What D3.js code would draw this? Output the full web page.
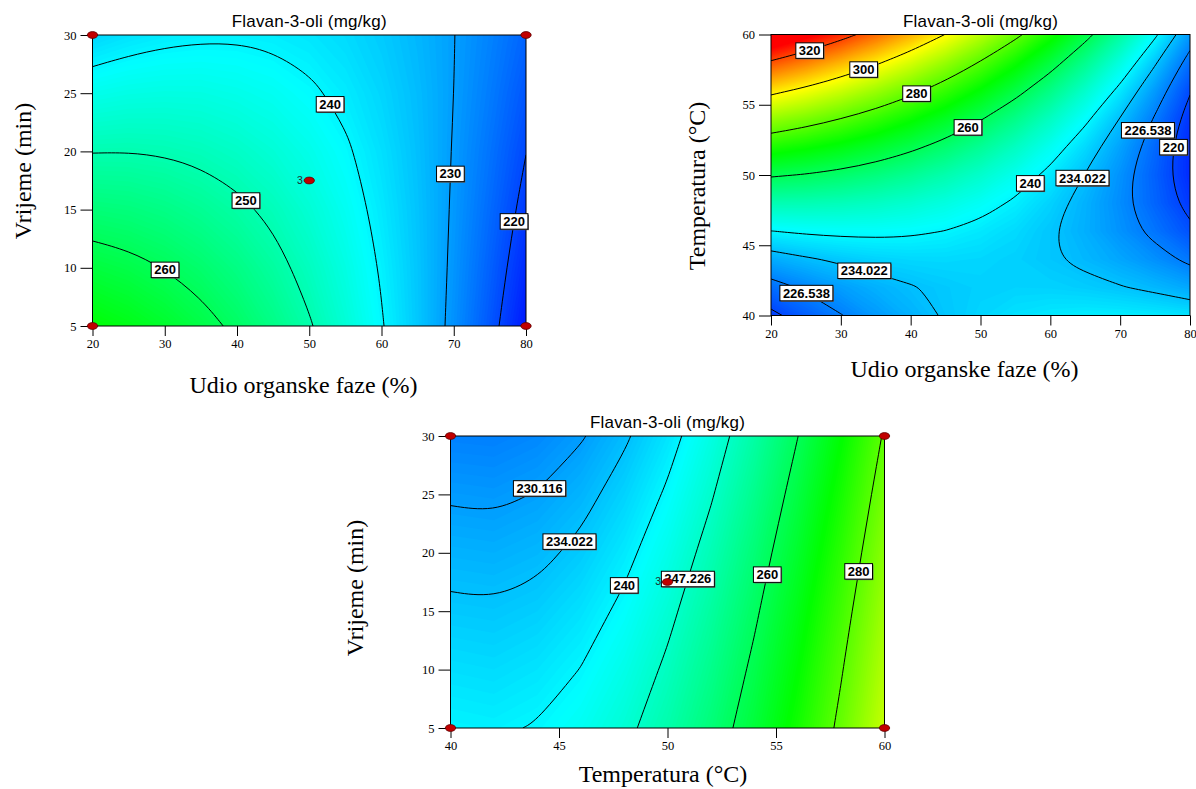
<!DOCTYPE html>
<html>
<head>
<meta charset="utf-8">
<script src="https://cdn.jsdelivr.net/npm/d3@7"></script>
<style>
  body { margin: 0; background: #fff; }
  svg { display: block; font-family: "Liberation Sans", Arial, sans-serif; }
  .serif { font-family: "Liberation Serif", "Times New Roman", serif; }
</style>
</head>
<body>
<div id="chart"></div>
<script>
// Flavan-3-oli (mg/kg), values
const organicPhase = [20, 25, 30, 35, 40, 45, 50, 55, 60, 65, 70, 75, 80];   // %
const temperature = [40, 42, 44, 46, 48, 50, 52, 54, 56, 58, 60];            // °C
const time = [5, 10, 15, 20, 25, 30];                                        // min

// rows = time (5..30), cols = organicPhase
const flavanOrgTime = [
  [269.5, 267.5, 265.0, 262.1, 258.7, 254.8, 250.5, 245.7, 240.4, 234.7, 228.5, 221.8, 214.7],
  [263.0, 261.7, 259.9, 257.7, 255.0, 251.8, 248.2, 244.1, 239.5, 234.5, 229.0, 223.0, 216.6],
  [256.5, 255.9, 254.8, 253.2, 251.2, 248.8, 245.8, 242.4, 238.5, 234.2, 229.4, 224.1, 218.4],
  [249.8, 249.9, 249.5, 248.7, 247.4, 245.6, 243.4, 240.7, 237.5, 233.8, 229.7, 225.1, 220.1],
  [243.1, 243.9, 244.2, 244.1, 243.4, 242.4, 240.8, 238.8, 236.3, 233.4, 230.0, 226.1, 221.7],
  [236.3, 237.8, 238.8, 239.3, 239.4, 239.0, 238.2, 236.9, 235.1, 232.8, 230.1, 226.9, 223.3]
];

// rows = temperature (40..60), cols = organicPhase
const flavanOrgTemp = [
  [218.7, 222.7, 226.3, 229.5, 232.2, 234.5, 236.3, 237.7, 238.6, 239.1, 239.1, 238.7, 237.9],
  [224.4, 227.4, 230.0, 232.1, 233.7, 234.9, 235.7, 236.0, 235.9, 235.3, 234.3, 232.9, 231.0],
  [231.5, 233.4, 234.9, 236.0, 236.6, 236.7, 236.4, 235.7, 234.5, 232.9, 230.9, 228.4, 225.4],
  [239.9, 240.8, 241.2, 241.2, 240.8, 239.9, 238.5, 236.8, 234.5, 231.9, 228.7, 225.2, 221.2],
  [249.7, 249.5, 248.9, 247.8, 246.3, 244.4, 242.0, 239.2, 235.9, 232.2, 228.0, 223.4, 218.3],
  [260.8, 259.6, 257.9, 255.8, 253.2, 250.2, 246.8, 242.9, 238.6, 233.8, 228.6, 222.9, 216.8],
  [273.3, 271.0, 268.3, 265.1, 261.5, 257.5, 253.0, 248.0, 242.6, 236.8, 230.5, 223.8, 216.6],
  [287.1, 283.8, 280.0, 275.8, 271.1, 266.0, 260.5, 254.5, 248.0, 241.1, 233.8, 226.0, 217.8],
  [302.3, 297.9, 293.1, 287.8, 282.1, 275.9, 269.3, 262.3, 254.8, 246.8, 238.5, 229.6, 220.4],
  [318.8, 313.4, 307.5, 301.2, 294.4, 287.2, 279.5, 271.4, 262.9, 253.9, 244.5, 234.6, 224.3],
  [336.7, 330.2, 323.3, 315.9, 308.1, 299.8, 291.1, 281.9, 272.3, 262.3, 251.8, 240.9, 229.5]
];

// rows = time (5..30), cols = temperature
const flavanTempTime = [
  [239.8, 239.4, 240.3, 242.4, 245.8, 250.5, 256.4, 263.5, 272.0, 281.6, 292.6],
  [237.4, 237.0, 238.0, 240.1, 243.5, 248.2, 254.1, 261.3, 269.8, 279.5, 290.4],
  [234.9, 234.6, 235.5, 237.7, 241.1, 245.8, 251.8, 259.0, 267.5, 277.2, 288.2],
  [232.3, 232.0, 232.9, 235.1, 238.6, 243.3, 249.3, 256.6, 265.0, 274.8, 285.8],
  [229.6, 229.3, 230.3, 232.5, 236.0, 240.7, 246.7, 254.0, 262.5, 272.3, 283.3],
  [226.7, 226.5, 227.5, 229.7, 233.3, 238.0, 244.1, 251.3, 259.9, 269.7, 280.7]
];

const levelsOrgTime = [220, 230, 240, 250, 260];
const levelsOrgTemp = [220, 226.538, 234.022, 240, 260, 280, 300, 320];
const levelsTempTime = [230.116, 234.022, 240, 247.226, 260, 280];

// design points (Box-Behnken), last one is the centre point run 3 times
const designOrgTime = [[20, 5], [20, 30], [80, 5], [80, 30], [50, 17.5]];
const designTempTime = [[40, 5], [40, 30], [60, 5], [60, 30], [50, 17.5]];
const designRuns = [1, 1, 1, 1, 3];

const chartTitle = 'Flavan-3-oli (mg/kg)';

const panels = [
  {
    id: 'p1', left: 92.5, right: 526, top: 35, bottom: 326,
    xs: organicPhase, ys: time, grid: flavanOrgTime, levels: levelsOrgTime,
    xTicks: d3.range(20, 81, 10), yTicks: d3.range(5, 31, 5),
    xTitle: 'Udio organske faze (%)', yTitle: 'Vrijeme (min)',
    xTitlePos: [303.5, 393], yTitlePos: [31, 171],
    design: designOrgTime,
    // rough spots where the contour labels sit, snapped onto the line
    labelAt: [[240, 52.7, 24.0], [250, 41.4, 15.9], [260, 30.5, 10.2], [230, 68.9, 18.1], [220, 77.9, 14.05]]
  },
  {
    id: 'p2', left: 771, right: 1190, top: 34.5, bottom: 315.5,
    xs: organicPhase, ys: temperature, grid: flavanOrgTemp, levels: levelsOrgTemp,
    xTicks: d3.range(20, 81, 10), yTicks: d3.range(40, 61, 5),
    xTitle: 'Udio organske faze (%)', yTitle: 'Temperatura (°C)',
    xTitlePos: [964.5, 377], yTitlePos: [705, 186],
    design: [],
    labelAt: [[320, 25.2, 59.4], [300, 32.9, 58.05], [280, 40.4, 56.3], [260, 47.8, 53.8],
      [240, 56.8, 49.6], [234.022, 64.25, 49.9], [234.022, 33.6, 43.65],
      [226.538, 73.5, 53.3], [226.538, 25.5, 41.97], [220, 77.6, 52.0]]
  },
  {
    id: 'p3', left: 450.5, right: 884.5, top: 436, bottom: 728,
    xs: temperature, ys: time, grid: flavanTempTime, levels: levelsTempTime,
    xTicks: d3.range(40, 61, 5), yTicks: d3.range(5, 31, 5),
    xTitle: 'Temperatura (°C)', yTitle: 'Vrijeme (min)',
    xTitlePos: [663, 782], yTitlePos: [363, 588],
    design: designTempTime,
    labelAt: [[230.116, 43.98, 25.75], [234.022, 45.5, 20.95], [240, 48.05, 17.2],
      [247.226, 50.97, 17.76], [260, 54.58, 18.16], [280, 58.68, 18.47]]
  }
];

const color = d3.scaleLinear()
  .domain([212, 241, 270, 299, 328])
  .range(['#0000ff', '#00ffff', '#00ff00', '#ffff00', '#ff0000'])
  .clamp(true);

const svg = d3.select('#chart').append('svg')
  .attr('width', 1196)
  .attr('height', 789);

svg.append('rect').attr('width', 1196).attr('height', 789).attr('fill', '#fff');

const closestOnSegment = (a, b, p) => {
  const dx = b[0] - a[0], dy = b[1] - a[1];
  const len = dx * dx + dy * dy;
  let t = len ? ((p[0] - a[0]) * dx + (p[1] - a[1]) * dy) / len : 0;
  t = Math.max(0, Math.min(1, t));
  return [a[0] + t * dx, a[1] + t * dy];
};

// drop vertices that sit almost on top of the previous one
const thin = (pts, minDist) => {
  if (pts.length < 3) return pts;
  const out = [pts[0]];
  for (let i = 1; i < pts.length - 1; i++) {
    const q = out[out.length - 1];
    if (Math.hypot(pts[i][0] - q[0], pts[i][1] - q[1]) >= minDist) out.push(pts[i]);
  }
  out.push(pts[pts.length - 1]);
  return out;
};

const drawPanel = p => {
  const x = d3.scaleLinear().domain(d3.extent(p.xs)).range([p.left, p.right]);
  const y = d3.scaleLinear().domain(d3.extent(p.ys)).range([p.bottom, p.top]);
  const nx = p.xs.length;
  const ny = p.ys.length;
  const values = p.grid.flat();

  // d3.contours puts sample i at grid coordinate i + 0.5
  const gx = d3.scaleLinear().domain([0.5, nx - 0.5]).range(x.range());
  const gy = d3.scaleLinear().domain([0.5, ny - 0.5]).range(y.range());
  const path = d3.geoPath(d3.geoTransform({
    point(px, py) { this.stream.point(gx(px), gy(py)); }
  }));
  const contours = d3.contours().size([nx, ny]);

  const g = svg.append('g').attr('class', 'panel');

  g.append('clipPath').attr('id', `clip-${p.id}`)
    .append('rect')
      .attr('x', p.left).attr('y', p.top)
      .attr('width', p.right - p.left).attr('height', p.bottom - p.top);

  const plot = g.append('g').attr('clip-path', `url(#clip-${p.id})`);

  // colour gradient from thin stacked bands
  plot.append('g').selectAll('path')
    .data(contours.thresholds(d3.range(204, 342, 0.5))(values))
    .join('path')
      .attr('d', path)
      .attr('fill', d => color(d.value + 0.25));

  // contour lines, cut where they run along the grid border, then smoothed
  const onBorder = pt => pt[0] <= 0 || pt[0] >= nx || pt[1] <= 0 || pt[1] >= ny;
  const toPx = pt => [gx(pt[0]), gy(pt[1])];
  const openLine = d3.line().curve(d3.curveBasis);
  const closedLine = d3.line().curve(d3.curveBasisClosed);
  const runsByLevel = new Map();

  p.levels.forEach(level => {
    const runs = [];
    contours.contour(values, level).coordinates.forEach(poly => poly.forEach(ring => {
      const pts = ring.slice(0, -1);
      const k = pts.findIndex(onBorder);
      if (k < 0) {
        runs.push({ pts: thin(pts.map(toPx), 3), closed: true });
        return;
      }
      let run = [];
      pts.slice(k).concat(pts.slice(0, k)).forEach(pt => {
        if (onBorder(pt)) {
          if (run.length > 1) runs.push({ pts: thin(run, 3), closed: false });
          run = [];
        } else {
          run.push(toPx(pt));
        }
      });
      if (run.length > 1) runs.push({ pts: thin(run, 3), closed: false });
    }));
    runsByLevel.set(level, runs);

    plot.append('g').selectAll('path')
      .data(runs)
      .join('path')
        .attr('d', r => (r.closed ? closedLine : openLine)(r.pts))
        .attr('fill', 'none')
        .attr('stroke', '#000')
        .attr('stroke-width', 1);
  });

  // frame
  g.append('rect')
    .attr('x', p.left).attr('y', p.top)
    .attr('width', p.right - p.left).attr('height', p.bottom - p.top)
    .attr('fill', 'none').attr('stroke', '#000').attr('stroke-width', 1);

  // axes
  g.append('g')
    .attr('transform', `translate(0,${p.bottom})`)
    .call(d3.axisBottom(x).tickValues(p.xTicks).tickSize(10).tickPadding(3.5).tickFormat(d3.format('d')))
    .call(a => a.select('.domain').remove())
    .attr('font-family', null).attr('font-size', 12.5)
    .attr('class', 'serif');

  g.append('g')
    .attr('transform', `translate(${p.left},0)`)
    .call(d3.axisLeft(y).tickValues(p.yTicks).tickSize(12).tickPadding(4).tickFormat(d3.format('d')))
    .call(a => a.select('.domain').remove())
    .attr('font-family', null).attr('font-size', 12.5)
    .attr('class', 'serif');

  // titles
  g.append('text')
    .attr('x', (p.left + p.right) / 2).attr('y', p.top - 8)
    .attr('text-anchor', 'middle')
    .attr('font-size', 17).attr('letter-spacing', 0.2)
    .text(chartTitle);

  g.append('text')
    .attr('class', 'serif')
    .attr('x', p.xTitlePos[0]).attr('y', p.xTitlePos[1])
    .attr('text-anchor', 'middle').attr('font-size', 24)
    .text(p.xTitle);

  g.append('text')
    .attr('class', 'serif')
    .attr('transform', `translate(${p.yTitlePos[0]},${p.yTitlePos[1]}) rotate(-90)`)
    .attr('text-anchor', 'middle').attr('font-size', 24)
    .text(p.yTitle);

  // contour value labels
  p.labelAt.forEach(([level, lx, ly]) => {
    const target = [x(lx), y(ly)];
    let best = target;
    let bestD = Infinity;
    (runsByLevel.get(level) || []).forEach(r => {
      const pts = r.closed ? r.pts.concat([r.pts[0]]) : r.pts;
      for (let i = 1; i < pts.length; i++) {
        const q = closestOnSegment(pts[i - 1], pts[i], target);
        const d = (q[0] - target[0]) ** 2 + (q[1] - target[1]) ** 2;
        if (d < bestD) { bestD = d; best = q; }
      }
    });

    const lab = g.append('g').attr('transform', `translate(${best[0]},${best[1]})`);
    const txt = lab.append('text')
      .attr('text-anchor', 'middle')
      .attr('y', 4.7)
      .attr('font-size', 13)
      .attr('font-weight', 'bold')
      .text(String(level));
    const w = txt.node().getComputedTextLength() + 6;
    lab.insert('rect', 'text')
      .attr('x', -w / 2 + 1).attr('y', -7.5 + 1)
      .attr('width', w).attr('height', 15.5)
      .attr('fill', '#666');
    lab.insert('rect', 'text')
      .attr('x', -w / 2).attr('y', -7.5)
      .attr('width', w).attr('height', 15.5)
      .attr('fill', '#fff').attr('stroke', '#000').attr('stroke-width', 1);
  });

  // design points
  const pts = g.append('g').selectAll('g')
    .data(p.design.map((d, i) => ({ d, runs: designRuns[i] })))
    .join('g')
      .attr('transform', o => `translate(${x(o.d[0])},${y(o.d[1])})`);

  pts.append('ellipse')
    .attr('rx', 5.2).attr('ry', 3.4)
    .attr('fill', '#c00000')
    .attr('stroke', '#5a0000').attr('stroke-width', 0.8);

  pts.filter(o => o.runs > 1).append('text')
    .attr('x', -6.5).attr('y', 3.2)
    .attr('text-anchor', 'end')
    .attr('font-size', 10.5)
    .attr('fill', '#1c2e2e')
    .text(o => o.runs);
};

panels.forEach(drawPanel);
</script>
</body>
</html>
